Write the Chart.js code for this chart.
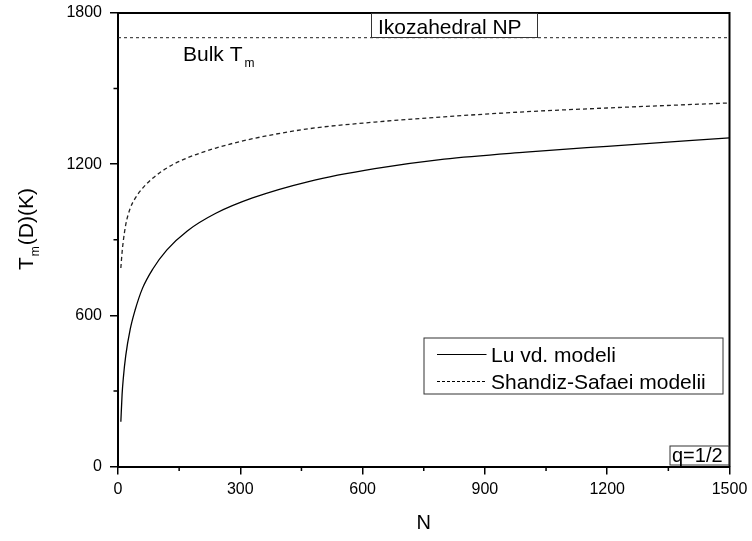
<!DOCTYPE html>
<html>
<head>
<meta charset="utf-8">
<script src="https://cdn.jsdelivr.net/npm/chart.js@4.4.0/dist/chart.umd.min.js"></script>
<style>
  body { margin: 0; background: #fff; }
  #wrap { width: 752px; height: 541px; }
</style>
</head>
<body>
<div id="wrap"><canvas id="chart"></canvas></div>
<script>
// N values
const nValues = [7, 10, 13, 19, 30, 42, 60, 85, 120, 170, 240, 330, 470, 630, 800, 1000, 1200, 1500];
// Lu vd. modeli (solid)
const luValues = [178, 285, 350, 440, 545, 621, 707, 783, 860, 935, 1005, 1066, 1132, 1182, 1220, 1248, 1271, 1304];
// Shandiz-Safaei modelii (dashed)
const ssValues = [788, 850, 895, 960, 1025, 1064, 1104, 1144, 1185, 1225, 1264, 1301, 1341, 1367, 1388, 1408, 1423, 1443];
// bulk melting point line
const bulkN = [0, 1500];
const bulkT = [1702, 1702];

const seriesNames = ["Lu vd. modeli", "Shandiz-Safaei modelii"];
const FONT = '"Liberation Sans", Arial, sans-serif';

const toPoints = (xs, ys) => xs.map((x, i) => ({ x, y: ys[i] }));

// extra drawing: frame, minor ticks, labels, legend, y title
const overlay = {
  id: "overlay",
  afterDraw(chart) {
    const { ctx, chartArea: ca, scales } = chart;
    const x = scales.x, y = scales.y;
    ctx.save();

    // top + right frame
    ctx.strokeStyle = "#000";
    ctx.lineWidth = 2;
    ctx.beginPath();
    ctx.moveTo(ca.left, ca.top);
    ctx.lineTo(ca.right, ca.top);
    ctx.lineTo(ca.right, ca.bottom);
    ctx.stroke();

    // minor ticks
    ctx.lineWidth = 1.5;
    ctx.beginPath();
    for (let v = 150; v < 1500; v += 300) {
      const px = x.getPixelForValue(v);
      ctx.moveTo(px, ca.bottom);
      ctx.lineTo(px, ca.bottom + 4.5);
    }
    for (let v = 300; v <= 1500; v += 600) {
      const py = y.getPixelForValue(v);
      ctx.moveTo(ca.left, py);
      ctx.lineTo(ca.left - 4.5, py);
    }
    ctx.stroke();

    ctx.fillStyle = "#000";
    ctx.textBaseline = "alphabetic";

    // y axis title T_m(D)(K)
    ctx.save();
    ctx.translate(33, 270);
    ctx.rotate(-Math.PI / 2);
    ctx.font = "21px " + FONT;
    ctx.fillText("T", 0, 0);
    let w = ctx.measureText("T").width;
    ctx.font = "12px " + FONT;
    ctx.fillText("m", w + 1, 6);
    w += ctx.measureText("m").width + 2;
    ctx.font = "21px " + FONT;
    ctx.fillText("(D)(K)", w, 0);
    ctx.restore();

    // Bulk T_m label
    ctx.font = "21px " + FONT;
    ctx.fillText("Bulk T", 183, 61);
    const bw = ctx.measureText("Bulk T").width;
    ctx.font = "12px " + FONT;
    ctx.fillText("m", 183 + bw + 2, 67);

    // title box
    ctx.lineWidth = 1;
    ctx.strokeStyle = "#333";
    ctx.fillStyle = "#fff";
    const tL = ca.left + 253, tT = ca.top, tW = 166, tH = 24;
    ctx.fillRect(tL, tT, tW, tH);
    ctx.strokeRect(tL + 0.5, tT + 0.5, tW, tH);
    ctx.fillStyle = "#000";
    ctx.font = "21px " + FONT;
    ctx.fillText("Ikozahedral NP", tL + 7, tT + 20.5);

    // q=1/2 box
    const qL = ca.right - 60, qT = ca.bottom - 21, qW = 59, qH = 19;
    ctx.fillStyle = "#fff";
    ctx.fillRect(qL, qT, qW, qH);
    ctx.strokeRect(qL + 0.5, qT + 0.5, qW, qH);
    ctx.fillStyle = "#000";
    ctx.font = "20px " + FONT;
    ctx.fillText("q=1/2", qL + 2.5, qT + 16);

    // legend
    const lL = ca.right - 306, lT = ca.top + 324.5, lW = 299, lH = 56;
    ctx.fillStyle = "#fff";
    ctx.fillRect(lL, lT, lW, lH);
    ctx.strokeRect(lL + 0.5, lT + 0.5, lW, lH);
    chart.data.datasets.slice(0, 2).forEach((ds, i) => {
      const rowY = lT + 17 + i * 27;
      ctx.strokeStyle = "#000";
      ctx.lineWidth = 1.2;
      ctx.setLineDash(i === 1 ? [3, 2] : []);
      ctx.beginPath();
      ctx.moveTo(lL + 13.5, rowY);
      ctx.lineTo(lL + 63, rowY);
      ctx.stroke();
      ctx.setLineDash([]);
      ctx.fillStyle = "#000";
      ctx.font = "21px " + FONT;
      ctx.fillText(ds.label, lL + 67.5, rowY + 7.5);
    });

    ctx.restore();
  }
};

const ctx = document.getElementById("chart").getContext("2d");
new Chart(ctx, {
  type: "line",
  data: {
    datasets: [
      {
        label: seriesNames[0],
        data: toPoints(nValues, luValues),
        borderColor: "#000",
        borderWidth: 1.3,
        pointRadius: 0,
        cubicInterpolationMode: "monotone"
      },
      {
        label: seriesNames[1],
        data: toPoints(nValues, ssValues),
        borderColor: "#222",
        borderWidth: 1.3,
        borderDash: [4, 3],
        pointRadius: 0,
        cubicInterpolationMode: "monotone"
      },
      {
        label: "Bulk",
        data: toPoints(bulkN, bulkT),
        borderColor: "#222",
        borderWidth: 1,
        borderDash: [3, 3],
        pointRadius: 0
      }
    ]
  },
  options: {
    responsive: true,
    maintainAspectRatio: false,
    animation: false,
    layout: { padding: { top: 13, right: 22.5, left: 0, bottom: 0 } },
    plugins: { legend: { display: false }, tooltip: { enabled: false } },
    scales: {
      x: {
        type: "linear",
        min: 0,
        max: 1500,
        border: { color: "#000", width: 2 },
        grid: {
          drawOnChartArea: false,
          tickLength: 8,
          lineWidth: 1.5,
          color: (c) => (c.tick && c.tick.value % 300 === 0 ? "#000" : "rgba(0,0,0,0)")
        },
        ticks: {
          stepSize: 150,
          autoSkip: false,
          maxRotation: 0,
          padding: 5,
          color: "#000",
          font: { family: FONT, size: 16 },
          callback: (v) => (v % 300 === 0 ? v : "")
        },
        title: {
          display: true,
          text: "N",
          color: "#000",
          font: { family: FONT, size: 20 },
          padding: { top: 0, bottom: 6 }
        },
        afterFit: (s) => { s.height = 74.5; s.paddingLeft = 0; s.paddingRight = 0; }
      },
      y: {
        min: 0,
        max: 1800,
        border: { color: "#000", width: 2 },
        grid: {
          drawOnChartArea: false,
          tickLength: 8,
          lineWidth: 1.5,
          color: (c) => (c.tick && c.tick.value % 600 === 0 ? "#000" : "rgba(0,0,0,0)")
        },
        ticks: {
          stepSize: 300,
          autoSkip: false,
          padding: 8,
          color: "#000",
          font: { family: FONT, size: 16 },
          callback: (v) => (v % 600 === 0 ? v : "")
        },
        afterFit: (s) => { s.width = 118; s.paddingTop = 0; s.paddingBottom = 0; }
      }
    }
  },
  plugins: [overlay]
});
</script>
</body>
</html>
